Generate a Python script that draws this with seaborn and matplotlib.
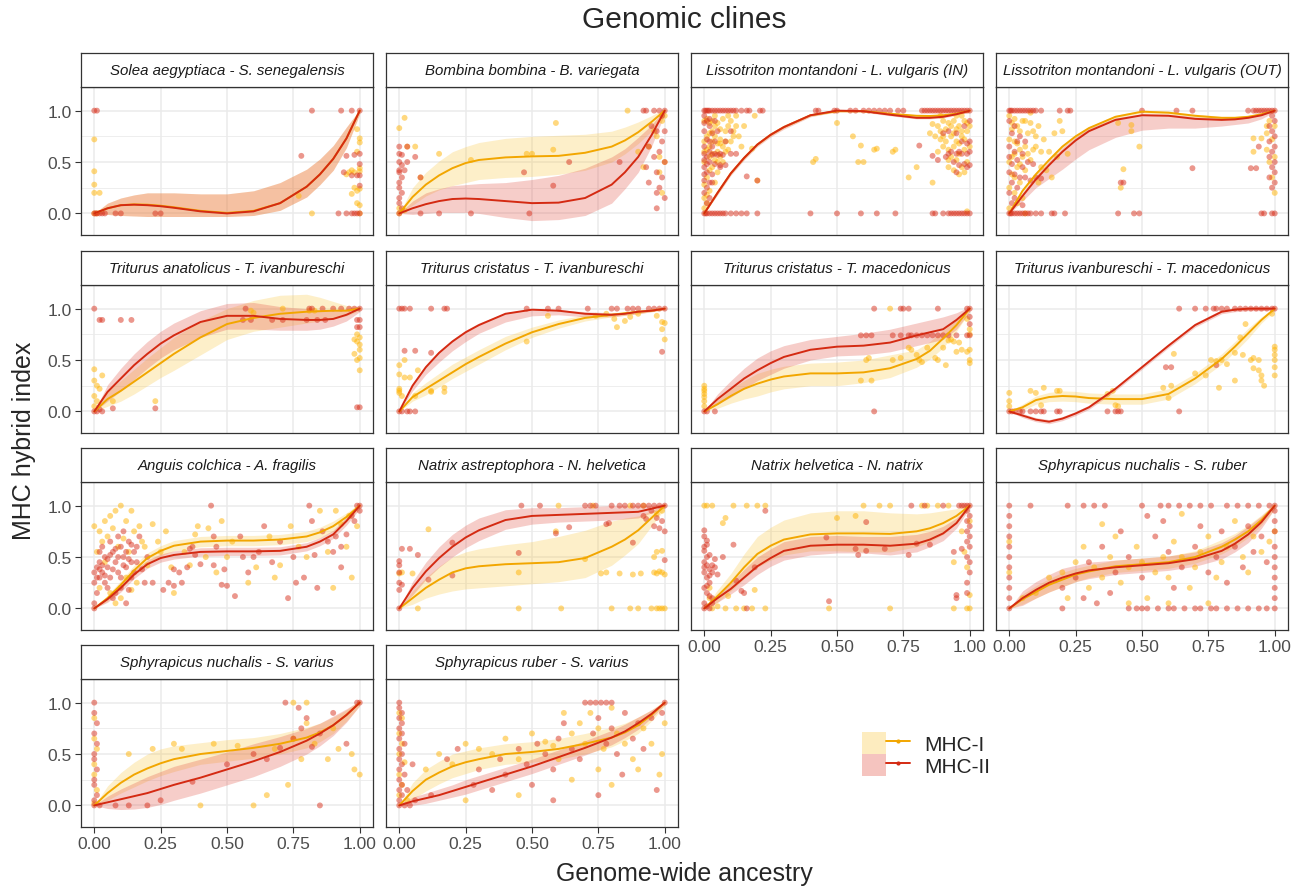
import numpy as np
import pandas as pd
import matplotlib
matplotlib.use("Agg")
import matplotlib.pyplot as plt
import seaborn as sns
from matplotlib.patches import Patch
from matplotlib.lines import Line2D
from matplotlib.legend_handler import HandlerTuple

# ---------------- data ----------------
SERIES = ["MHC-I", "MHC-II"]
X_TICKS = [0, 0.25, 0.5, 0.75, 1.0]
X_TICK_LABELS = ["0.00", "0.25", "0.50", "0.75", "1.00"]
Y_TICKS = [0, 0.5, 1.0]
Y_TICK_LABELS = ["0.0", "0.5", "1.0"]
FIT_X = [0, 0.05, 0.1, 0.15, 0.2, 0.25, 0.3, 0.4, 0.5, 0.6, 0.7, 0.8, 0.85, 0.9, 0.95, 1.0]

TITLES = [
    "Solea aegyptiaca - S. senegalensis", "Bombina bombina - B. variegata",
    "Lissotriton montandoni - L. vulgaris (IN)", "Lissotriton montandoni - L. vulgaris (OUT)",
    "Triturus anatolicus - T. ivanbureschi", "Triturus cristatus - T. ivanbureschi",
    "Triturus cristatus - T. macedonicus", "Triturus ivanbureschi - T. macedonicus",
    "Anguis colchica - A. fragilis", "Natrix astreptophora - N. helvetica",
    "Natrix helvetica - N. natrix", "Sphyrapicus nuchalis - S. ruber",
    "Sphyrapicus nuchalis - S. varius", "Sphyrapicus ruber - S. varius",
]

# 1 Solea
p1_I_pts = [(0,0.72),(0,0.41),(0,0.28),(0,0.2),(0.02,0.2),(0,0),(0.01,0),(0.82,0),(0.77,0.17),(0.99,0.82),(1,0.73),(1,0.69),(0.99,0.6),(0.97,0.42),(1,0.44),(1,0.41),(0.95,0.38),(0.98,0.25),(1,0.24),(0.99,0.22),(1,0.08),(0.99,0.1),(0.97,0.19),(0.98,0.4),(0.96,0.4),(1,0.0)]
p1_II_pts = [(0,1),(0.01,1),(0,0),(0.005,0),(0.01,0),(0.02,0),(0.03,0),(0.04,0),(0.08,0),(0.1,0),(0.23,0),(0.25,0),(0.82,1),(0.93,1),(0.97,1),(1,1),(0.78,0.56),(0.95,0.56),(0.98,0.57),(1,0.58),(0.97,0.37),(0.99,0.37),(1,0.37),(1,0.27),(0.92,0),(0.95,0),(0.97,0),(0.98,0),(0.99,0),(1,0),(0.94,0.4),(1,0.48)]
p1_I_fit = [0, 0.05, 0.08, 0.088, 0.085, 0.075, 0.06, 0.025, 0.005, 0.025, 0.1, 0.26, 0.38, 0.53, 0.73, 1.0]
p1_I_lo = [0, -0.01, -0.02, -0.025, -0.03, -0.03, -0.03, -0.03, -0.03, -0.02, 0.03, 0.16, 0.28, 0.42, 0.64, 0.97]
p1_I_hi = [0, 0.1, 0.15, 0.18, 0.2, 0.2, 0.2, 0.19, 0.19, 0.22, 0.3, 0.43, 0.53, 0.66, 0.84, 1.01]
p1_II_fit = [0, 0.05, 0.08, 0.085, 0.08, 0.07, 0.055, 0.02, 0.0, 0.02, 0.1, 0.26, 0.38, 0.53, 0.73, 1.0]
p1_II_lo = [0, -0.01, -0.02, -0.025, -0.03, -0.03, -0.03, -0.03, -0.03, -0.02, 0.03, 0.16, 0.28, 0.42, 0.64, 0.97]
p1_II_hi = [0, 0.1, 0.15, 0.18, 0.2, 0.2, 0.2, 0.19, 0.19, 0.22, 0.3, 0.43, 0.53, 0.66, 0.84, 1.01]

# 2 Bombina
p2_I_pts = [(0.02,0.93),(0,0.83),(0.06,0.65),(0.03,0.65),(0.15,0.58),(0.08,0.35),(0.27,0.52),(0.48,0.58),(0.5,0.58),(0.59,0.88),(0.58,0.62),(0.86,1.0),(0.9,0.6),(0.94,0.65),(0.96,0.8),(0.97,0.75),(0.98,0.55),(1,0.95),(0.99,0.9),(1,0.5),(0.98,0.4),(0.99,0.2),(0.92,0.45),(0,0.05),(0,0.0),(0.02,0.03)]
p2_II_pts = [(0,0.65),(0,0.58),(0.01,0.57),(0,0.5),(0.01,0.47),(0,0.42),(0,0.4),(0.01,0.35),(0,0.3),(0,0.25),(0.01,0.2),(0,0.15),(0,0.1),(0.01,0.05),(0,0),(0.03,0.65),(0.06,0.55),(0.03,0.5),(0.08,0.35),(0.02,0.42),(0.08,0),(0.15,0),(0.27,0),(0.49,0),(0.47,0.4),(0.58,0.27),(0.64,0.5),(0.83,0.5),(0.93,1),(0.96,1),(0.98,1),(1,1),(0.95,0.85),(0.97,0.8),(0.99,0.7),(0.94,0.65),(0.98,0.6),(0.96,0.55),(1,0.5),(0.93,0.45),(0.97,0.4),(0.99,0.35),(0.94,0.3),(0.98,0.25),(0.97,0.2),(1,0.15),(0.97,0.05),(0.92,1),(0.99,0.95),(1,0.8)]
p2_I_fit = [0, 0.16, 0.28, 0.37, 0.44, 0.49, 0.52, 0.545, 0.555, 0.56, 0.59, 0.65, 0.71, 0.79, 0.89, 1.0]
p2_I_lo = [0, 0.08, 0.17, 0.23, 0.27, 0.3, 0.33, 0.35, 0.36, 0.38, 0.42, 0.5, 0.58, 0.68, 0.8, 0.97]
p2_I_hi = [0, 0.25, 0.4, 0.51, 0.6, 0.65, 0.69, 0.73, 0.75, 0.76, 0.77, 0.8, 0.84, 0.89, 0.95, 1.02]
p2_II_fit = [0, 0.05, 0.09, 0.12, 0.14, 0.145, 0.14, 0.12, 0.1, 0.105, 0.15, 0.28, 0.4, 0.55, 0.76, 1.0]
p2_II_lo = [0, -0.01, 0.0, 0.01, 0.01, 0.01, 0.0, -0.04, -0.07, -0.06, -0.02, 0.1, 0.24, 0.4, 0.65, 0.97]
p2_II_hi = [0, 0.12, 0.2, 0.24, 0.27, 0.28, 0.29, 0.3, 0.33, 0.37, 0.44, 0.55, 0.63, 0.74, 0.86, 1.02]

# 3 Lissotriton IN
p3_I_pts = [(0,0.9),(0.02,0.88),(0.04,0.85),(0.06,0.82),(0.08,0.8),(0.1,0.9),(0.12,0.85),(0.11,0.75),(0.13,0.75),(0.01,0.75),(0.03,0.7),(0.05,0.68),(0.07,0.65),(0.09,0.62),(0,0.6),(0.02,0.55),(0.04,0.52),(0.06,0.55),(0.0,0.5),(0.03,0.45),(0.05,0.4),(0.01,0.35),(0.0,0.28),(0.02,0.22),(0.0,0.15),(0.01,0.1),(0.0,0.05),(0.15,0.85),(0.18,0.63),(0.14,0.65),(0.2,0.32),(0.19,0.95),(0.07,0.5),(0.09,0.95),(0.12,0.95),(0.04,0.95),(0.0,0.7),(0.06,0.72),(0.02,0.65),(0.08,0.7),(0.05,0.6),(0.03,0.8),
             (0.01,0.92),(0.03,0.9),(0.05,0.88),(0.07,0.92),(0.09,0.85),(0.02,0.78),(0.04,0.75),(0.06,0.68),(0.08,0.6),(0.01,0.62),(0.03,0.58),(0.05,0.5),(0.02,0.42),(0.04,0.3),(0.01,0.18),(0.1,0.7),(0.11,0.8),
             (0.5,0.88),(0.56,0.75),(0.59,0.66),(0.64,0.62),(0.65,0.63),(0.71,0.6),(0.72,0.62),(0.42,0.53),(0.41,0.5),(0.58,0.5),(0.77,0.35),(0.8,0.45),(0.86,0.3),(0.6,0.5),
             (0.86,0.87),(0.88,0.85),(0.9,0.9),(0.92,0.88),(0.94,0.9),(0.96,0.85),(0.98,0.9),(1,0.85),(0.87,0.75),(0.89,0.72),(0.91,0.7),(0.93,0.75),(0.95,0.7),(0.97,0.75),(0.99,0.8),(0.9,0.65),(0.92,0.62),(0.94,0.65),(0.96,0.68),(0.98,0.62),(1,0.65),(0.93,0.55),(0.95,0.52),(0.97,0.45),(0.99,0.5),(0.94,0.42),(0.96,0.38),(0.98,0.4),(0.92,0.45),(0.99,0.02),(0.95,0.95),(0.89,0.95),(0.97,0.95),(0.85,0.78),(0.88,0.6),
             (0.91,0.82),(0.93,0.85),(0.95,0.82),(0.97,0.8),(0.99,0.88),(0.9,0.75),(0.94,0.78),(0.98,0.72),(0.96,0.58),(0.92,0.52),(0.89,0.8)]
p3_II_pts = [(0,1),(0.005,1),(0.01,1),(0.015,1),(0.02,1),(0.03,1),(0.04,1),(0.05,1),(0.06,1),(0.07,1),(0.08,1),(0.09,1),(0.1,1),(0.11,1),(0.12,1),(0.14,1),(0.16,1),(0.17,1),(0.21,1),(0.22,1),(0.42,1),(0.43,1),(0.49,1),(0.5,1),(0.55,1),(0.57,1),(0.6,1),(0.62,1),(0.64,1),(0.66,1),(0.68,1),(0.7,1),(0.73,1),(0.75,1),(0.82,1),(0.83,1),(0.84,1),(0.85,1),(0.86,1),(0.87,1),(0.88,1),(0.89,1),(0.9,1),(0.91,1),(0.92,1),(0.93,1),(0.94,1),(0.95,1),(0.96,1),(0.97,1),(0.98,1),(0.99,1),(1,1),
              (0,0),(0.005,0),(0.01,0),(0.02,0),(0.03,0),(0.04,0),(0.05,0),(0.06,0),(0.07,0),(0.08,0),(0.1,0),(0.12,0),(0.14,0),(0.16,0),(0.2,0),(0.4,0),(0.5,0),(0.59,0),(0.65,0),(0.72,0),(0.86,0),(0.87,0),(0.9,0),(0.92,0),(0.93,0),(0.94,0),(0.95,0),(0.96,0),(0.97,0),(0.98,0),(0.99,0),(1,0),
              (0,0.95),(0.01,0.9),(0.02,0.85),(0,0.8),(0.03,0.78),(0.01,0.72),(0.04,0.7),(0,0.65),(0.02,0.6),(0,0.58),(0.01,0.55),(0.03,0.57),(0.05,0.57),(0.07,0.57),(0.02,0.5),(0,0.45),(0.04,0.48),(0.06,0.47),(0.01,0.4),(0.03,0.38),(0,0.32),(0.02,0.3),(0.01,0.25),(0,0.2),(0.02,0.15),(0.08,0.7),(0.1,0.8),(0.12,0.58),(0.1,0.58),(0.16,0.36),(0.2,0.32),(0.06,0.45),(0.08,0.47),(0.01,0.1),(0.05,0.8),
              (0,0.88),(0.02,0.92),(0.04,0.9),(0.03,0.65),(0,0.52),(0.01,0.48),(0.03,0.3),(0,0.38),(0.04,0.58),(0.06,0.58),(0.02,0.7),
              (0.9,0.78),(0.92,0.8),(0.95,0.78),(0.98,0.85),(1,0.9),(0.96,0.6),(0.93,0.6),(0.92,0.58),(0.95,0.58),(0.97,0.58),(0.99,0.58),(1,0.6),(0.94,0.5),(0.96,0.47),(0.98,0.48),(1,0.47),(0.99,0.68),(1,0.7),(0.97,0.7),(0.91,0.55),(0.81,0.66),(0.86,0.56),(0.88,0.52),(0.95,0.4),(0.99,0.45)]
p3_I_fit = [0, 0.2, 0.39, 0.54, 0.67, 0.765, 0.84, 0.955, 0.995, 0.995, 0.97, 0.95, 0.948, 0.955, 0.97, 1.0]
p3_I_lo = [0, 0.19, 0.38, 0.53, 0.66, 0.755, 0.83, 0.945, 0.985, 0.985, 0.96, 0.94, 0.938, 0.945, 0.96, 0.99]
p3_I_hi = [0, 0.21, 0.4, 0.55, 0.68, 0.775, 0.85, 0.965, 1.005, 1.005, 0.98, 0.96, 0.958, 0.965, 0.98, 1.0]
p3_II_fit = [0, 0.2, 0.39, 0.54, 0.67, 0.765, 0.84, 0.955, 1.0, 0.995, 0.96, 0.93, 0.93, 0.94, 0.965, 1.0]
p3_II_lo = [0, 0.18, 0.37, 0.52, 0.65, 0.745, 0.82, 0.94, 0.99, 0.985, 0.95, 0.92, 0.92, 0.93, 0.955, 0.99]
p3_II_hi = [0, 0.22, 0.41, 0.56, 0.69, 0.785, 0.86, 0.97, 1.01, 1.005, 0.97, 0.94, 0.94, 0.95, 0.975, 1.0]

# 4 Lissotriton OUT
p4_I_pts = [(0,0.95),(0.02,0.92),(0.05,0.9),(0.08,0.88),(0.11,0.85),(0.01,0.82),(0.04,0.8),(0.07,0.78),(0.1,0.75),(0.13,0.72),(0.0,0.72),(0.03,0.68),(0.06,0.65),(0.09,0.62),(0.12,0.6),(0.02,0.58),(0.05,0.55),(0.08,0.52),(0.0,0.5),(0.03,0.45),(0.06,0.42),(0.01,0.38),(0.04,0.3),(0.0,0.25),(0.02,0.2),(0.05,0.15),(0.03,0.1),(0.0,0.05),(0.06,0.0),(0.16,0.35),(0.2,0.8),(0.18,0.55),(0.22,0.58),(0.14,0.42),(0.17,0.78),(0.19,0.9),(0.15,0.6),(0.12,0.45),(0.08,0.98),(0.11,0.3),
             (0.01,0.88),(0.03,0.85),(0.06,0.9),(0.09,0.8),(0.02,0.7),(0.04,0.62),(0.07,0.58),(0.01,0.55),(0.04,0.48),(0.02,0.35),(0.1,0.65),
             (0.41,0.88),(0.46,0.86),(0.46,0.8),(0.49,0.65),(0.43,0.43),(0.42,0.25),
             (0.92,0.73),(0.92,0.6),(0.95,0.73),(0.97,0.78),(0.98,0.9),(1,0.85),(0.99,0.72),(0.97,0.62),(1,0.55),(0.98,0.5),(0.99,0.35),(1,0.2),(0.97,0.85)]
p4_II_pts = [(0,1),(0.005,1),(0.01,1),(0.02,1),(0.03,1),(0.04,1),(0.05,1),(0.06,1),(0.07,1),(0.08,1),(0.09,1),(0.1,1),(0.12,1),(0.19,1),(0.22,1),(0.23,1),(0.5,1),(0.63,1),(0.69,1),(0.9,1),(0.92,1),(0.93,1),(0.94,1),(0.95,1),(0.96,1),(0.97,1),(0.98,1),(0.99,1),(1,1),
              (0,0),(0.005,0),(0.01,0),(0.02,0),(0.03,0),(0.04,0),(0.05,0),(0.06,0),(0.07,0),(0.08,0),(0.1,0),(0.12,0),(0.16,0),(0.17,0),(0.21,0),(0.41,0),(0.47,0),(0.49,0),(0.95,0),(0.96,0),(0.99,0),(1,0),
              (0,0.9),(0.02,0.85),(0.01,0.78),(0.04,0.75),(0.03,0.7),(0,0.65),(0.02,0.6),(0.05,0.58),(0.0,0.55),(0.03,0.52),(0.01,0.48),(0.05,0.45),(0,0.4),(0.02,0.38),(0.04,0.35),(0.06,0.35),(0.08,0.32),(0.01,0.3),(0.03,0.25),(0,0.2),(0.02,0.15),(0.01,0.1),(0.05,0.08),(0.1,0.35),(0.12,0.34),(0.07,0.5),(0.09,0.48),(0.06,0.7),
              (0.42,0.3),(0.43,0.3),(0.69,0.44),(0.91,0.44),(0.93,0.44),(0.94,0.65),(0.98,0.85),(0.99,0.8),(1,0.75),(0.98,0.7),(1,0.65),(0.99,0.6),(0.98,0.55),(1,0.5),(0.99,0.45),(1,0.4),(0.98,0.35),(1,0.3),(0.99,0.25),(1,0.9),(0.99,0.95)]
p4_I_fit = [0, 0.22, 0.38, 0.52, 0.65, 0.75, 0.83, 0.94, 0.99, 0.98, 0.95, 0.93, 0.93, 0.94, 0.965, 1.0]
p4_I_lo = [0, 0.2, 0.36, 0.505, 0.635, 0.735, 0.815, 0.925, 0.975, 0.965, 0.935, 0.915, 0.915, 0.925, 0.955, 0.99]
p4_I_hi = [0, 0.24, 0.4, 0.535, 0.665, 0.765, 0.845, 0.955, 1.005, 0.995, 0.965, 0.945, 0.945, 0.955, 0.975, 1.0]
p4_II_fit = [0, 0.17, 0.33, 0.47, 0.6, 0.71, 0.8, 0.91, 0.955, 0.95, 0.92, 0.91, 0.915, 0.93, 0.955, 1.0]
p4_II_lo = [0, 0.12, 0.25, 0.34, 0.43, 0.53, 0.62, 0.74, 0.81, 0.83, 0.83, 0.85, 0.865, 0.88, 0.92, 0.99]
p4_II_hi = [0, 0.2, 0.37, 0.51, 0.64, 0.745, 0.83, 0.93, 0.97, 0.965, 0.94, 0.93, 0.935, 0.945, 0.965, 1.0]

# 5 Triturus anatolicus - T. ivanbureschi
p5_I_pts = [(0,0.41),(0,0.3),(0.01,0.25),(0.03,0.35),(0.02,0.22),(0,0.15),(0.01,0.1),(0,0.05),(0.07,0.1),(0.23,0.1),(0.59,0.98),(0.71,1.0),(0.6,0.96),(0.81,0.98),(0.83,0.98),(0.99,0.75),(1,0.72),(0.99,0.68),(1,0.65),(0.98,0.56),(1,0.52),(0.99,0.5),(1,0.4),(1,0.6),(0.98,0.7)]
p5_II_pts = [(0,1.0),(0.02,0.89),(0.03,0.89),(0.1,0.89),(0.14,0.89),(0,0),(0.01,0),(0.02,0.02),(0.03,0),(0.07,0.03),(0.23,0.03),(0.56,0.89),(0.59,0.89),(0.71,0.89),(0.8,0.89),(0.84,0.89),(0.87,0.89),(0.57,1.0),(0.81,1.0),(0.82,1.0),(0.86,1.0),(0.9,1.0),(0.93,1.0),(0.96,1.0),(0.98,1.0),(1,1.0),(0.99,0.89),(1,0.89),(0.99,0.82),(1,0.82),(0.99,0.04),(1,0.04),(0.67,0.89)]
p5_I_fit = [0, 0.12, 0.2, 0.29, 0.38, 0.47, 0.56, 0.72, 0.85, 0.91, 0.95, 0.97, 0.975, 0.98, 0.98, 1.0]
p5_I_lo = [0, 0.05, 0.1, 0.17, 0.25, 0.33, 0.4, 0.55, 0.7, 0.78, 0.82, 0.86, 0.88, 0.9, 0.93, 0.98]
p5_I_hi = [0, 0.2, 0.3, 0.41, 0.52, 0.62, 0.72, 0.88, 1.0, 1.08, 1.13, 1.14, 1.11, 1.07, 1.03, 1.02]
p5_II_fit = [0, 0.19, 0.32, 0.45, 0.56, 0.66, 0.74, 0.87, 0.93, 0.93, 0.9, 0.89, 0.89, 0.9, 0.94, 1.0]
p5_II_lo = [0, 0.1, 0.2, 0.31, 0.42, 0.52, 0.6, 0.72, 0.8, 0.8, 0.79, 0.79, 0.8, 0.83, 0.88, 0.97]
p5_II_hi = [0, 0.26, 0.42, 0.56, 0.68, 0.78, 0.86, 0.98, 1.05, 1.06, 1.02, 1.0, 0.99, 0.98, 1.0, 1.02]

# 6 Triturus cristatus - T. ivanbureschi
p6_I_pts = [(0,0.45),(0.02,0.5),(0,0.36),(0.02,0.33),(0.04,0.33),(0.07,0.4),(0,0.2),(0,0.18),(0,0.22),(0.01,0.15),(0.06,0.15),(0.12,0.2),(0.17,0.23),(0.12,0.19),(0.17,0.19),(0.48,0.68),(0.56,0.93),(0.81,0.9),(0.82,0.82),(0.85,0.88),(0.87,0.92),(0.9,0.95),(0.97,0.93),(0.99,0.87),(1,0.86),(0.99,0.8),(1,0.7),(0.74,0.93),(0.78,0.95)]
p6_II_pts = [(0,1),(0.01,1),(0.02,1),(0.04,1),(0.12,1),(0.17,1),(0.18,1),(0,0),(0.01,0),(0.03,0),(0.04,0),(0.06,0),(0.02,0.59),(0.06,0.59),(0.12,0.57),(0.48,1),(0.56,1),(0.6,1),(0.71,1),(0.8,1),(0.82,1),(0.86,1),(0.88,1),(0.9,1),(0.94,1),(0.96,1),(0.98,1),(1,1),(0.99,0.58)]
p6_I_fit = [0, 0.14, 0.22, 0.3, 0.38, 0.46, 0.53, 0.66, 0.77, 0.85, 0.91, 0.94, 0.955, 0.97, 0.98, 1.0]
p6_I_lo = [0, 0.1, 0.16, 0.24, 0.32, 0.39, 0.46, 0.6, 0.72, 0.81, 0.88, 0.92, 0.935, 0.95, 0.97, 0.99]
p6_I_hi = [0, 0.18, 0.28, 0.37, 0.46, 0.53, 0.6, 0.73, 0.82, 0.89, 0.94, 0.96, 0.97, 0.98, 0.99, 1.01]
p6_II_fit = [0, 0.25, 0.43, 0.57, 0.68, 0.77, 0.84, 0.95, 0.99, 0.98, 0.95, 0.94, 0.95, 0.97, 0.98, 1.0]
p6_II_lo = [0, 0.2, 0.36, 0.48, 0.59, 0.68, 0.76, 0.87, 0.93, 0.94, 0.92, 0.92, 0.935, 0.95, 0.97, 0.99]
p6_II_hi = [0, 0.27, 0.45, 0.59, 0.7, 0.79, 0.86, 0.96, 1.0, 0.99, 0.97, 0.96, 0.965, 0.98, 0.99, 1.01]

# 7 Triturus cristatus - T. macedonicus
p7_I_pts = [(0,0.25),(0,0.2),(0,0.22),(0,0.17),(0,0.14),(0,0.1),(0,0.05),(0.59,0.3),(0.63,0.3),(0.61,0.5),(0.62,0.52),(0.71,0.5),(0.74,0.52),(0.77,0.62),(0.78,0.6),(0.8,0.55),(0.81,0.5),(0.82,0.48),(0.87,0.52),(0.88,0.5),(0.91,0.45),(0.84,0.62),(0.92,0.69),(0.93,0.7),(0.94,0.68),(0.95,0.58),(0.97,0.6),(0.99,0.58),(1,0.6),(1,0.8),(1,0.75),(0.99,0.9),(1,0.5),(1,0.47),(0.9,0.62),(0.7,1),(0.96,0.67)]
p7_II_pts = [(0,0),(0.01,0),(0.04,0),(0.64,1),(0.74,1),(0.75,1),(0.77,1),(0.88,1),(0.99,1),(1,1),(0.59,0.74),(0.61,0.74),(0.63,0.74),(0.71,0.74),(0.74,0.74),(0.77,0.74),(0.78,0.74),(0.8,0.74),(0.82,0.74),(0.84,0.74),(0.86,0.74),(0.88,0.74),(0.9,0.74),(0.92,0.74),(0.95,0.74),(0.99,0.74),(1,0.74),(1,0.92),(1,0.85),(0.64,0)]
p7_I_fit = [0, 0.07, 0.15, 0.22, 0.27, 0.31, 0.34, 0.37, 0.37, 0.38, 0.42, 0.51, 0.59, 0.71, 0.84, 1.0]
p7_I_lo = [0, 0.03, 0.08, 0.12, 0.15, 0.19, 0.22, 0.25, 0.25, 0.28, 0.33, 0.43, 0.51, 0.62, 0.78, 0.97]
p7_I_hi = [0, 0.11, 0.22, 0.3, 0.37, 0.41, 0.44, 0.47, 0.48, 0.5, 0.55, 0.6, 0.68, 0.79, 0.89, 1.02]
p7_II_fit = [0, 0.12, 0.22, 0.32, 0.4, 0.47, 0.53, 0.6, 0.63, 0.64, 0.67, 0.74, 0.77, 0.8, 0.89, 1.0]
p7_II_lo = [0, 0.07, 0.14, 0.22, 0.3, 0.36, 0.42, 0.5, 0.54, 0.55, 0.58, 0.64, 0.67, 0.7, 0.8, 0.97]
p7_II_hi = [0, 0.17, 0.3, 0.42, 0.52, 0.59, 0.64, 0.7, 0.73, 0.76, 0.8, 0.86, 0.89, 0.92, 0.96, 1.02]

# 8 Triturus ivanbureschi - T. macedonicus
p8_I_pts = [(0,0.18),(0,0.1),(0,0.05),(0.08,0.2),(0.1,0.18),(0.13,0.23),(0.18,0.2),(0.19,0.2),(0.12,0.06),(0.37,0.17),(0.39,0.2),(0.4,0.06),(0.41,0.05),(0.58,0.23),(0.61,0.25),(0.62,0.56),(0.6,0.13),(0.7,0.37),(0.74,0.35),(0.76,0.5),(0.78,0.49),(0.8,0.5),(0.82,0.46),(0.85,0.57),(0.87,0.72),(0.89,0.85),(0.91,0.5),(0.92,0.52),(0.94,0.5),(0.95,0.3),(0.96,0.25),(0.95,0.35),(0.94,0.4),(1,0.63),(1,0.6),(1,0.55),(1,0.5),(1,0.43),(1,0.35),(0.99,0.95),(0.88,0.55),(0.85,0.3),(0.92,0.42),(0.79,0.23)]
p8_II_pts = [(0,0),(0.01,0),(0.02,0),(0.04,0),(0.05,0),(0.08,0),(0.1,0),(0.12,0),(0.13,0),(0.18,0),(0.19,0),(0.37,0),(0.4,0),(0.41,0),(0.42,0),(0.64,0),(0.59,0.43),(0.61,0.43),(0.78,0.45),(0.64,1),(0.7,1),(0.74,1),(0.77,1),(0.78,1),(0.8,1),(0.82,1),(0.85,1),(0.87,1),(0.89,1),(0.91,1),(0.93,1),(0.95,1),(0.97,1),(0.99,1),(1,1)]
p8_I_fit = [0, 0.04, 0.11, 0.14, 0.15, 0.145, 0.13, 0.12, 0.12, 0.17, 0.32, 0.51, 0.63, 0.76, 0.89, 1.0]
p8_I_lo = [0, 0.01, 0.07, 0.095, 0.1, 0.095, 0.08, 0.07, 0.07, 0.12, 0.27, 0.46, 0.58, 0.71, 0.86, 0.98]
p8_I_hi = [0, 0.07, 0.15, 0.185, 0.2, 0.195, 0.18, 0.17, 0.17, 0.22, 0.37, 0.56, 0.68, 0.81, 0.92, 1.01]
p8_II_fit = [0, -0.04, -0.08, -0.1, -0.07, -0.02, 0.04, 0.22, 0.43, 0.64, 0.84, 0.97, 0.99, 1.0, 1.0, 1.0]
p8_II_lo = [0, -0.06, -0.1, -0.12, -0.09, -0.04, 0.02, 0.2, 0.41, 0.62, 0.82, 0.95, 0.97, 0.98, 0.98, 0.99]
p8_II_hi = [0, -0.02, -0.06, -0.08, -0.05, 0.0, 0.06, 0.24, 0.45, 0.66, 0.86, 0.99, 1.01, 1.01, 1.01, 1.0]

# 9 Anguis
p9_I_pts = [(0,0.8),(0.02,0.75),(0.04,0.85),(0.06,0.9),(0.08,0.95),(0.1,1.0),(0.12,0.85),(0.14,0.95),(0.03,0.65),(0.05,0.7),(0.07,0.78),(0.09,0.6),(0.11,0.68),(0.13,0.55),(0.15,0.75),(0.17,0.8),(0.19,0.6),(0.01,0.55),(0.04,0.45),(0.06,0.15),(0.08,0.05),(0.1,0.1),(0.12,0.3),(0.14,0.18),(0.16,0.25),(0.18,0.65),(0.02,0.2),(0.2,0.42),(0.22,0.82),(0.24,0.65),(0.25,0.55),(0.27,0.75),(0.29,0.4),(0.3,0.15),(0.34,0.55),(0.36,0.42),(0.38,0.72),(0.39,0.8),(0.42,0.5),(0.43,0.78),(0.46,0.35),(0.48,0.85),(0.5,0.5),(0.52,0.65),(0.58,0.25),(0.61,0.4),(0.66,0.7),(0.68,0.3),(0.7,0.42),(0.74,0.8),(0.77,0.6),(0.8,0.5),(0.85,0.95),(0.88,0.55),(0.9,0.2),(0.93,0.82),(0.95,0.6),(0.97,0.3),(0.99,0.8),(0.96,0.9),(0.91,0.95)]
p9_II_pts = [(0,0),(0,0.05),(0.01,0.15),(0,0.25),(0.02,0.3),(0,0.35),(0.01,0.4),(0.03,0.35),(0.02,0.45),(0.04,0.5),(0.05,0.4),(0.06,0.3),(0.07,0.55),(0.08,0.45),(0.09,0.35),(0.1,0.6),(0.11,0.5),(0.12,0.4),(0.13,0.65),(0.14,0.3),(0.15,0.55),(0.16,0.45),(0.17,0.7),(0.05,0.2),(0.08,0.15),(0.1,0.2),(0.12,0.05),(0.03,0.6),(0.06,0.65),(0.09,0.7),(0.11,0.75),(0.14,0.62),(0.18,0.38),(0.19,0.25),(0.2,0.5),(0.04,0.25),(0.07,0.1),(0.13,0.18),(0.02,0.55),(0.15,0.35),
              (0.01,0.3),(0.03,0.42),(0.05,0.48),(0.07,0.38),(0.09,0.5),(0.11,0.42),(0.13,0.48),(0.04,0.32),(0.06,0.52),(0.08,0.58),(0.1,0.3),(0.12,0.55),(0.14,0.45),(0.16,0.6),(0.02,0.38),
              (0.22,0.25),(0.26,0.18),(0.28,0.25),(0.3,0.22),(0.32,0.35),(0.33,0.25),(0.35,0.4),(0.37,0.6),(0.38,0.52),(0.4,0.43),(0.44,1.0),(0.45,0.42),(0.46,0.6),(0.49,0.38),(0.48,0.23),(0.5,0.22),(0.53,0.12),(0.56,0.5),(0.58,0.35),(0.6,0.5),(0.62,0.55),(0.67,0.45),(0.7,0.65),(0.73,0.1),(0.75,0.5),(0.79,0.3),(0.81,1.0),(0.82,0.85),(0.83,0.52),(0.84,0.2),(0.86,0.75),(0.88,0.65),(0.9,0.55),(0.91,0.7),(0.93,0.6),(0.95,0.72),(0.97,0.9),(0.98,0.85),(0.99,1.0),(1,1.0),(1,0.95),(0.93,0.4),(0.76,0.25),(0.64,0.8),(0.55,0.7),(0.45,0.7),(0.36,0.58),(0.3,0.38)]
p9_I_fit = [0, 0.1, 0.23, 0.37, 0.49, 0.56, 0.61, 0.65, 0.66, 0.66, 0.67, 0.7, 0.74, 0.8, 0.89, 1.0]
p9_I_lo = [0, 0.07, 0.19, 0.32, 0.44, 0.51, 0.56, 0.6, 0.61, 0.61, 0.62, 0.65, 0.69, 0.75, 0.85, 0.97]
p9_I_hi = [0, 0.13, 0.27, 0.42, 0.54, 0.61, 0.66, 0.7, 0.71, 0.71, 0.72, 0.75, 0.79, 0.85, 0.93, 1.02]
p9_II_fit = [0, 0.09, 0.2, 0.33, 0.43, 0.49, 0.52, 0.55, 0.555, 0.555, 0.56, 0.6, 0.65, 0.72, 0.85, 1.0]
p9_II_lo = [0, 0.06, 0.16, 0.29, 0.39, 0.45, 0.48, 0.51, 0.515, 0.515, 0.52, 0.56, 0.61, 0.68, 0.81, 0.97]
p9_II_hi = [0, 0.12, 0.24, 0.37, 0.47, 0.53, 0.56, 0.59, 0.595, 0.595, 0.6, 0.64, 0.69, 0.76, 0.89, 1.02]

# 10 Natrix astreptophora - N. helvetica
p10_I_pts = [(0.11,0.77),(0,0.34),(0.01,0.35),(0.05,0.34),(0.07,0),(0.45,0.35),(0.45,0),(0.61,0),(0.59,0.75),(0.7,0.48),(0.76,0.34),(0.78,0.35),(0.8,0),(0.83,0.34),(0.87,0),(0.88,0.33),(0.9,0),(0.91,0.34),(0.95,0),(0.97,0),(0.98,0),(0.99,0),(1,0),(0.96,0.35),(0.97,0.34),(0.98,0.36),(0.99,0.35),(1,0.33),(0.97,0.55),(0.99,0.56),(0.96,0.5),(0.97,0.92),(0.73,1),(0.87,1),(0.92,1),(0.99,0.95),(0.6,1)]
p10_II_pts = [(0,0.46),(0,0.42),(0,0.35),(0,0.25),(0.01,0.23),(0,0.18),(0,0),(0.01,0.58),(0.04,0.58),(0.07,0.52),(0.2,0.64),(0.2,0.32),(0.11,0.28),(0.45,0.54),(0.46,1),(0.53,1),(0.59,0.73),(0.64,0.79),(0.7,1),(0.72,1),(0.74,1),(0.78,0.82),(0.79,0.83),(0.8,1),(0.83,1),(0.85,1),(0.88,1),(0.9,1),(0.92,1),(0.94,1),(0.96,1),(0.98,1),(1,1),(0.88,0.64),(0.92,0.9),(0.95,0.95),(0.97,0.88),(0.98,0.78),(0.99,0.85),(1,0.75),(1,0.47),(0.96,0.8),(0.93,0.87)]
p10_I_fit = [0, 0.1, 0.2, 0.28, 0.35, 0.39, 0.41, 0.43, 0.44, 0.45, 0.49, 0.6, 0.67, 0.76, 0.88, 1.0]
p10_I_lo = [0, 0.04, 0.1, 0.14, 0.17, 0.19, 0.2, 0.22, 0.24, 0.26, 0.3, 0.42, 0.52, 0.63, 0.8, 0.97]
p10_I_hi = [0, 0.17, 0.3, 0.41, 0.5, 0.55, 0.58, 0.62, 0.65, 0.7, 0.76, 0.85, 0.88, 0.9, 0.95, 1.02]
p10_II_fit = [0, 0.2, 0.36, 0.49, 0.6, 0.69, 0.76, 0.86, 0.9, 0.91, 0.92, 0.93, 0.935, 0.94, 0.97, 1.0]
p10_II_lo = [0, 0.13, 0.28, 0.4, 0.5, 0.59, 0.66, 0.77, 0.82, 0.84, 0.85, 0.86, 0.87, 0.88, 0.93, 0.98]
p10_II_hi = [0, 0.26, 0.45, 0.6, 0.72, 0.81, 0.88, 0.96, 0.98, 0.98, 0.99, 1.0, 1.0, 1.0, 1.0, 1.02]

# 11 Natrix helvetica - N. natrix
p11_I_pts = [(0,1),(0.01,1),(0.03,1),(0.11,1),(0.16,1),(0.2,1),(0.23,1),(0.08,0.88),(0.07,0.83),(0.57,0.9),(0.6,1),(0.5,0.88),(0.66,1),(0.7,1),(0.82,1),(0.84,1),(0.88,1),(0.92,1),(0.02,0.2),(0.02,0.1),(0.03,0),(0.08,0),(0.12,0),(0.15,0),(0.18,0),(0.23,0),(0.47,0),(0.7,0),(0.94,0),(0.99,0),(1,0),(1,0.13),(0.94,0.45),(0.97,0.75),(0.98,0.55),(0.99,0.4),(1,0.85),(0.05,0.02),(0.19,0.18),(0.09,0.12)]
p11_II_pts = [(0,0.76),(0,0.7),(0.01,0.62),(0,0.56),(0.01,0.5),(0,0.45),(0.02,0.38),(0,0.35),(0.01,0.3),(0.02,0.25),(0,0.2),(0.01,0.15),(0.03,0.1),(0,0.05),(0,0),(0.02,0),(0.04,0.48),(0.03,0.42),(0.05,0.33),(0.07,0.5),(0.11,0.62),(0.14,0.17),(0.15,0.15),(0.16,0),(0.12,0.27),(0.19,0.4),(0.23,0.95),(0.47,0.07),(0.46,0.69),(0.57,0.58),(0.58,0.52),(0.61,0.56),(0.61,0.84),(0.68,0.58),(0.77,0.52),(0.8,0.63),(0.85,0.62),(0.94,0.55),(0.97,0.58),(0.78,1),(0.83,1),(0.9,1),(0.96,1),(0.97,1),(0.98,1),(0.99,1),(1,1),(0.99,0.95),(1,0.9),(0.99,0.85),(1,0.8),(0.99,0.75),(1,0.7),(0.99,0.65),(1,0.6),(0.99,0.5),(1,0.45),(1,0.35),(0.99,0.25),(0.95,0.13),(0.99,0.15),(0.95,0.1),
               (0.01,0.66),(0,0.6),(0.02,0.52),(0.01,0.42),(0,0.4),(0.02,0.32),(0.01,0.22),(0.02,0.12),(0.03,0.05),(0.01,0.02),(0.03,0.35),(0.04,0.4)]
p11_I_fit = [0, 0.12, 0.25, 0.4, 0.53, 0.61, 0.67, 0.72, 0.73, 0.73, 0.725, 0.75, 0.78, 0.83, 0.9, 1.0]
p11_I_lo = [0, 0.06, 0.17, 0.29, 0.4, 0.47, 0.52, 0.56, 0.56, 0.55, 0.55, 0.6, 0.65, 0.72, 0.83, 0.98]
p11_I_hi = [0, 0.18, 0.34, 0.53, 0.7, 0.79, 0.86, 0.93, 0.95, 0.95, 0.93, 0.92, 0.93, 0.95, 0.97, 1.02]
p11_II_fit = [0, 0.1, 0.19, 0.3, 0.41, 0.49, 0.56, 0.61, 0.62, 0.62, 0.61, 0.63, 0.67, 0.73, 0.83, 1.0]
p11_II_lo = [0, 0.06, 0.14, 0.23, 0.33, 0.41, 0.47, 0.52, 0.54, 0.54, 0.52, 0.55, 0.6, 0.66, 0.78, 0.98]
p11_II_hi = [0, 0.14, 0.25, 0.38, 0.5, 0.58, 0.65, 0.7, 0.71, 0.7, 0.7, 0.72, 0.75, 0.8, 0.88, 1.01]

# 12 Sphyrapicus nuchalis - S. ruber
p12_I_pts = [(0.05,0.1),(0.1,0.15),(0.15,0.3),(0.2,0.35),(0.22,0.1),(0.25,0.45),(0.28,0.6),(0.3,0.2),(0.32,0.4),(0.35,0.3),(0.38,0.5),(0.4,0.7),(0.42,0.25),(0.45,0.4),(0.48,0.6),(0.5,0.45),(0.52,0.1),(0.55,0.35),(0.58,0.5),(0.6,0.3),(0.62,0.65),(0.65,0.5),(0.68,0.2),(0.7,0.4),(0.72,0.55),(0.75,0.7),(0.78,0.3),(0.8,0.45),(0.82,0.6),(0.85,0.85),(0.88,0.5),(0.9,0.35),(0.92,0.7),(0.95,0.55),(0.98,0.65),(1,0.75),(0,0.65),(0,0.35),(0.45,0.05),(0.6,0.05),(0.75,0.05),(0.35,0.82),(0.65,0.92)]
p12_II_pts = [(0,1),(0.08,1),(0.22,1),(0.28,1),(0.32,1),(0.36,1),(0.5,1),(0.57,1),(0.6,1),(0.64,1),(0.68,1),(0.72,1),(0.76,1),(0.82,1),(0.86,1),(0.9,1),(0.94,1),(0.98,1),(1,1),
               (0,0),(0.2,0),(0.45,0),(0.48,0),(0.5,0),(0.52,0),(0.56,0),(0.6,0),(0.62,0),(0.66,0),(0.7,0),(0.72,0),(0.76,0),(0.78,0),(0.82,0),(0.86,0),(0.9,0),(0.94,0),(0.97,0),(1,0),
               (0,0.9),(0,0.8),(0,0.7),(0,0.6),(0,0.5),(0,0.4),(0,0.3),(0,0.2),(0,0.1),
               (1,0.95),(1,0.85),(1,0.75),(1,0.6),(1,0.5),(1,0.4),(1,0.3),(1,0.2),(1,0.1),
               (0.2,0.2),(0.25,0.3),(0.3,0.45),(0.35,0.6),(0.38,0.15),(0.4,0.35),(0.45,0.5),(0.5,0.3),(0.55,0.7),(0.6,0.55),(0.62,0.2),(0.65,0.4),(0.7,0.6),(0.72,0.8),(0.75,0.35),(0.78,0.5),(0.8,0.75),(0.82,0.25),(0.85,0.6),(0.88,0.4),(0.9,0.8),(0.92,0.55),(0.95,0.7),(0.97,0.45),(0.58,0.85),(0.52,0.9),(0.42,0.75),(0.33,0.05),(0.28,0.1)]
p12_I_fit = [0, 0.09, 0.16, 0.23, 0.28, 0.33, 0.36, 0.41, 0.43, 0.45, 0.5, 0.6, 0.67, 0.75, 0.86, 1.0]
p12_I_lo = [0, 0.04, 0.1, 0.16, 0.21, 0.26, 0.3, 0.35, 0.37, 0.39, 0.44, 0.53, 0.6, 0.69, 0.81, 0.97]
p12_I_hi = [0, 0.14, 0.22, 0.29, 0.35, 0.39, 0.42, 0.47, 0.49, 0.51, 0.56, 0.67, 0.73, 0.81, 0.91, 1.02]
p12_II_fit = [0, 0.1, 0.18, 0.25, 0.3, 0.34, 0.37, 0.4, 0.42, 0.44, 0.48, 0.56, 0.63, 0.72, 0.84, 1.0]
p12_II_lo = [0, 0.03, 0.1, 0.16, 0.21, 0.26, 0.29, 0.33, 0.35, 0.37, 0.41, 0.48, 0.55, 0.64, 0.78, 0.97]
p12_II_hi = [0, 0.17, 0.26, 0.33, 0.39, 0.42, 0.45, 0.47, 0.49, 0.51, 0.55, 0.64, 0.71, 0.8, 0.9, 1.02]

# 13 Sphyrapicus nuchalis - S. varius
p13_I_pts = [(0,0.85),(0,0.65),(0.01,0.55),(0,0.4),(0,0.3),(0.01,0.15),(0,0.02),(0.13,0.5),(0.3,0.6),(0.33,0.55),(0.45,0.6),(0.54,0.58),(0.6,0),(0.65,0.1),(0.68,0.55),(0.73,0.2),(0.75,0.65),(0.78,0.45),(0.8,0.8),(0.83,0.6),(0.88,0.45),(0.9,0.75),(0.92,0.55),(0.97,0.5),(0.98,0.35),(1,0.3),(0.8,1),(0.75,1),(0.22,0.55),(0.4,0)]
p13_II_pts = [(0,1),(0,0.9),(0.01,0.8),(0,0.7),(0.01,0.6),(0,0.5),(0,0.45),(0.01,0.35),(0,0.25),(0,0.2),(0.01,0.1),(0,0.05),(0,0),(0.02,0),(0.08,0),(0.13,0),(0.2,0),(0.25,0.05),(0.37,0.23),(0.5,0.4),(0.6,0.5),(0.65,0.45),(0.7,0.56),(0.75,0.65),(0.78,0.75),(0.8,0.85),(0.77,0.95),(0.82,0.57),(0.85,0.7),(0.9,0.9),(0.72,1),(0.99,1),(1,1),(0.85,0),(0.95,0.6)]
p13_I_fit = [0, 0.12, 0.22, 0.3, 0.36, 0.41, 0.45, 0.5, 0.53, 0.56, 0.6, 0.66, 0.71, 0.78, 0.88, 1.0]
p13_I_lo = [0, 0.05, 0.12, 0.18, 0.24, 0.29, 0.33, 0.4, 0.43, 0.46, 0.5, 0.56, 0.62, 0.7, 0.82, 0.97]
p13_I_hi = [0, 0.19, 0.32, 0.42, 0.5, 0.55, 0.58, 0.61, 0.64, 0.66, 0.7, 0.76, 0.8, 0.86, 0.93, 1.02]
p13_II_fit = [0, 0.03, 0.06, 0.09, 0.12, 0.16, 0.2, 0.27, 0.35, 0.43, 0.52, 0.63, 0.7, 0.78, 0.88, 1.0]
p13_II_lo = [0, -0.03, -0.04, -0.035, -0.02, 0.01, 0.05, 0.12, 0.2, 0.28, 0.38, 0.5, 0.58, 0.68, 0.81, 0.97]
p13_II_hi = [0, 0.09, 0.16, 0.22, 0.28, 0.33, 0.38, 0.45, 0.52, 0.6, 0.67, 0.75, 0.8, 0.87, 0.94, 1.02]

# 14 Sphyrapicus ruber - S. varius
p14_I_pts = [(0,0.9),(0.01,0.85),(0,0.7),(0.01,0.6),(0,0.5),(0.02,0.42),(0,0.3),(0.01,0.2),(0,0.1),(0.03,0.05),(0.1,0.35),(0.15,0.5),(0.2,0.4),(0.25,0.6),(0.3,0.55),(0.35,0.5),(0.4,0.65),(0.45,0.45),(0.5,0.7),(0.55,0.62),(0.58,0.58),(0.6,0.45),(0.62,0.9),(0.65,0.7),(0.68,0.8),(0.7,0.6),(0.72,0.9),(0.75,0.75),(0.77,0.55),(0.8,0.95),(0.82,0.7),(0.85,0.6),(0.88,0.45),(0.9,0.35),(0.92,0.75),(0.95,0.6),(0.98,0.3),(0.99,0.5),(1,0.8),(0.65,0.25),(0.75,0.35),(0.8,0.2),(0.45,0.1),(0.25,0.05)]
p14_II_pts = [(0,1),(0,0.95),(0.01,0.9),(0,0.85),(0.01,0.8),(0,0.75),(0.01,0.7),(0,0.65),(0.02,0.6),(0,0.55),(0.01,0.5),(0,0.45),(0.01,0.4),(0,0.35),(0.02,0.3),(0,0.25),(0.01,0.2),(0,0.15),(0.01,0.1),(0,0.05),(0,0),(0.02,0),(0.04,0),(0.06,0.05),(0.03,0.15),(0.05,0.4),
               (0.12,0.1),(0.18,0.45),(0.22,0.55),(0.28,0.2),(0.3,0.35),(0.35,0.15),(0.38,0.45),(0.4,0.3),(0.45,0.55),(0.48,0.4),(0.5,0.2),(0.52,0.6),(0.55,0.5),(0.58,0.35),(0.6,0.65),(0.62,0.8),(0.65,0.55),(0.68,0.45),(0.7,1),(0.72,1),(0.74,1),(0.76,1),(0.78,1),(0.8,1),(0.73,0.7),(0.75,0.85),(0.78,0.6),(0.8,0.75),(0.82,0.5),(0.84,0.3),(0.85,0.9),(0.88,0.65),(0.9,0.8),(0.92,0.55),(0.95,0.85),(0.97,0.15),(1,1),(0.99,0.9),(0.75,0.1),(0.58,0.05)]
p14_I_fit = [0, 0.14, 0.25, 0.32, 0.38, 0.42, 0.45, 0.5, 0.52, 0.55, 0.6, 0.66, 0.71, 0.78, 0.88, 1.0]
p14_I_lo = [0, 0.06, 0.14, 0.21, 0.27, 0.31, 0.35, 0.4, 0.42, 0.45, 0.5, 0.57, 0.63, 0.7, 0.82, 0.97]
p14_I_hi = [0, 0.22, 0.35, 0.43, 0.5, 0.53, 0.56, 0.6, 0.62, 0.65, 0.7, 0.76, 0.8, 0.86, 0.93, 1.02]
p14_II_fit = [0, 0.04, 0.07, 0.1, 0.14, 0.18, 0.22, 0.3, 0.38, 0.47, 0.56, 0.66, 0.72, 0.8, 0.89, 1.0]
p14_II_lo = [0, 0.0, 0.02, 0.05, 0.08, 0.11, 0.15, 0.23, 0.31, 0.4, 0.49, 0.59, 0.66, 0.74, 0.85, 0.98]
p14_II_hi = [0, 0.08, 0.12, 0.16, 0.2, 0.25, 0.29, 0.37, 0.45, 0.54, 0.63, 0.73, 0.79, 0.86, 0.93, 1.01]

PANELS = [
    (p1_I_pts, p1_II_pts, p1_I_fit, p1_I_lo, p1_I_hi, p1_II_fit, p1_II_lo, p1_II_hi),
    (p2_I_pts, p2_II_pts, p2_I_fit, p2_I_lo, p2_I_hi, p2_II_fit, p2_II_lo, p2_II_hi),
    (p3_I_pts, p3_II_pts, p3_I_fit, p3_I_lo, p3_I_hi, p3_II_fit, p3_II_lo, p3_II_hi),
    (p4_I_pts, p4_II_pts, p4_I_fit, p4_I_lo, p4_I_hi, p4_II_fit, p4_II_lo, p4_II_hi),
    (p5_I_pts, p5_II_pts, p5_I_fit, p5_I_lo, p5_I_hi, p5_II_fit, p5_II_lo, p5_II_hi),
    (p6_I_pts, p6_II_pts, p6_I_fit, p6_I_lo, p6_I_hi, p6_II_fit, p6_II_lo, p6_II_hi),
    (p7_I_pts, p7_II_pts, p7_I_fit, p7_I_lo, p7_I_hi, p7_II_fit, p7_II_lo, p7_II_hi),
    (p8_I_pts, p8_II_pts, p8_I_fit, p8_I_lo, p8_I_hi, p8_II_fit, p8_II_lo, p8_II_hi),
    (p9_I_pts, p9_II_pts, p9_I_fit, p9_I_lo, p9_I_hi, p9_II_fit, p9_II_lo, p9_II_hi),
    (p10_I_pts, p10_II_pts, p10_I_fit, p10_I_lo, p10_I_hi, p10_II_fit, p10_II_lo, p10_II_hi),
    (p11_I_pts, p11_II_pts, p11_I_fit, p11_I_lo, p11_I_hi, p11_II_fit, p11_II_lo, p11_II_hi),
    (p12_I_pts, p12_II_pts, p12_I_fit, p12_I_lo, p12_I_hi, p12_II_fit, p12_II_lo, p12_II_hi),
    (p13_I_pts, p13_II_pts, p13_I_fit, p13_I_lo, p13_I_hi, p13_II_fit, p13_II_lo, p13_II_hi),
    (p14_I_pts, p14_II_pts, p14_I_fit, p14_I_lo, p14_I_hi, p14_II_fit, p14_II_lo, p14_II_hi),
]

# ---------------- style ----------------
sns.set_theme(style="white")
plt.rcParams["font.family"] = ["Liberation Sans", "DejaVu Sans"]

PT_PAL = {"MHC-I": "#FFB300", "MHC-II": "#D9301C"}
LINE_PAL = {"MHC-I": "#F2A600", "MHC-II": "#D42A12"}
RIB_COL = {"MHC-I": "#F9C43A", "MHC-II": "#E0483A"}
RIB_ALPHA = 0.27
BORDER = "#333333"
GRID = "#EBEBEB"
TICK_FS = 12.5

W, H = 1293, 887
COL_LEFT = [81, 386, 691, 996]
ROW_TOP = [88, 286, 483, 680]
PW, PH, SH = 292, 148, 34

fig = plt.figure(figsize=(W / 100, H / 100), dpi=100)
fig.patch.set_facecolor("white")

for i, (title, data) in enumerate(zip(TITLES, PANELS)):
    I_pts, II_pts, I_fit, I_lo, I_hi, II_fit, II_lo, II_hi = data
    r, c = divmod(i, 4)
    x0, y0 = COL_LEFT[c], ROW_TOP[r]
    ax = fig.add_axes([x0 / W, 1 - (y0 + PH) / H, PW / W, PH / H])
    sax = fig.add_axes([x0 / W, 1 - y0 / H, PW / W, SH / H])

    pts = pd.concat([
        pd.DataFrame(I_pts, columns=["x", "y"]).assign(series="MHC-I"),
        pd.DataFrame(II_pts, columns=["x", "y"]).assign(series="MHC-II"),
    ], ignore_index=True)
    fits = pd.concat([
        pd.DataFrame({"x": FIT_X, "fit": I_fit, "lo": I_lo, "hi": I_hi, "series": "MHC-I"}),
        pd.DataFrame({"x": FIT_X, "fit": II_fit, "lo": II_lo, "hi": II_hi, "series": "MHC-II"}),
    ], ignore_index=True)

    for s in SERIES:
        f = fits[fits.series == s]
        ax.fill_between(f["x"], f["lo"], f["hi"], color=RIB_COL[s], alpha=RIB_ALPHA,
                        linewidth=0, zorder=1)
    sns.scatterplot(data=pts, x="x", y="y", hue="series", hue_order=SERIES, palette=PT_PAL,
                    s=18, alpha=0.5, linewidth=0, legend=False, ax=ax, zorder=2)
    sns.lineplot(data=fits, x="x", y="fit", hue="series", hue_order=SERIES, palette=LINE_PAL,
                 estimator=None, sort=False, linewidth=1.4, legend=False, ax=ax, zorder=3)

    ax.set_xlim(-0.05, 1.05)
    ax.set_ylim(-0.21, 1.23)
    ax.set_xticks(X_TICKS)
    ax.set_yticks(Y_TICKS)
    ax.set_yticks([0.25, 0.75], minor=True)
    ax.grid(which="major", color=GRID, linewidth=1.1)
    ax.grid(which="minor", axis="y", color=GRID, linewidth=0.6)
    ax.set_axisbelow(True)
    ax.set_xlabel("")
    ax.set_ylabel("")
    for sp in ax.spines.values():
        sp.set_color(BORDER)
        sp.set_linewidth(0.9)

    show_x = i in (10, 11, 12, 13)
    show_y = c == 0
    ax.tick_params(axis="x", which="major", bottom=show_x, labelbottom=show_x, length=4.5,
                   width=0.8, color=BORDER, labelcolor="#4D4D4D", labelsize=TICK_FS, pad=2)
    ax.tick_params(axis="y", which="major", left=show_y, labelleft=show_y, length=4.5,
                   width=0.8, color=BORDER, labelcolor="#4D4D4D", labelsize=TICK_FS, pad=2)
    ax.tick_params(which="minor", left=False, bottom=False)
    if show_x:
        ax.set_xticklabels(X_TICK_LABELS)
    if show_y:
        ax.set_yticklabels(Y_TICK_LABELS)

    sax.set_xticks([])
    sax.set_yticks([])
    sax.set_facecolor("white")
    for sp in sax.spines.values():
        sp.set_color(BORDER)
        sp.set_linewidth(0.9)
    sax.text(0.5, 0.5, title, ha="center", va="center", fontsize=10.8, style="italic",
             color="#1A1A1A", transform=sax.transAxes)

fig.text(684 / W, 1 - 20 / H, "Genomic clines", ha="center", va="center", fontsize=21.5)
fig.text(684 / W, 1 - 874 / H, "Genome-wide ancestry", ha="center", va="center", fontsize=18)
fig.text(24 / W, 1 - 441 / H, "MHC hybrid index", ha="center", va="center", rotation=90,
         fontsize=18)

handles = []
for s in SERIES:
    handles.append((Patch(facecolor=RIB_COL[s], alpha=RIB_ALPHA + 0.05, edgecolor="none"),
                    Line2D([], [], color=LINE_PAL[s], linewidth=1.4, marker="o",
                           markersize=3, markeredgewidth=0)))
fig.legend(handles, SERIES, handler_map={tuple: HandlerTuple(ndivide=None)},
           loc="center left", bbox_to_anchor=(862 / W, 1 - 755 / H), frameon=False,
           fontsize=15, handlelength=2.3, handleheight=1.25, labelspacing=0.0,
           handletextpad=0.7, borderpad=0, borderaxespad=0)

fig.savefig("out.png", dpi=100, facecolor="white")
